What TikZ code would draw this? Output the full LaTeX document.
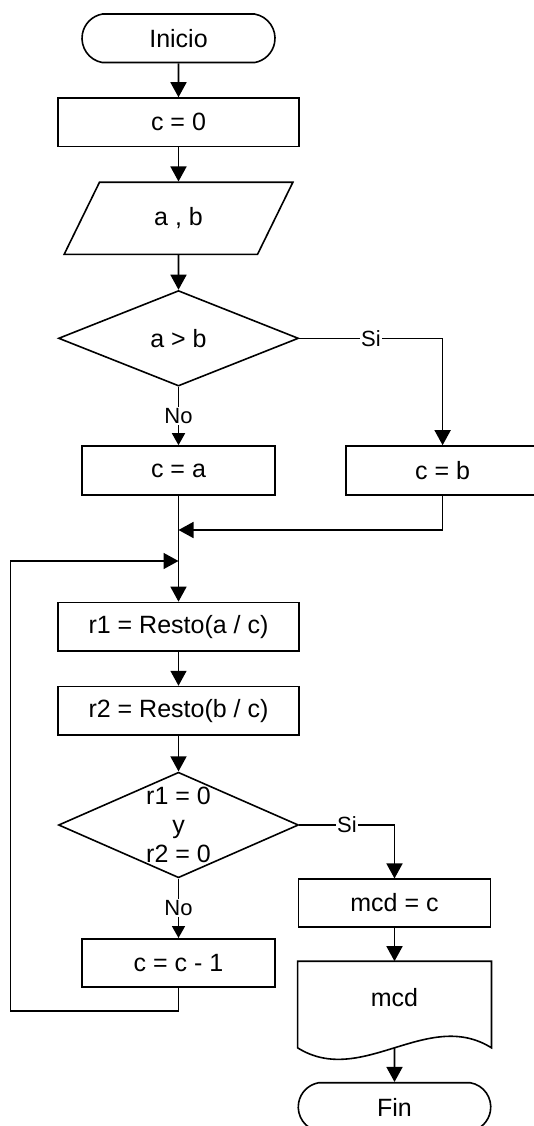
\documentclass[tikz,border=0pt]{standalone}
\usepackage{fontspec}
\setmainfont{Liberation Sans}
\usetikzlibrary{arrows.meta,shapes.geometric,shapes.misc}

\begin{document}
\begin{tikzpicture}[x=1pt, y=-1pt, line width=1.6pt, >={Triangle[length=15pt,width=16pt]},
    every node/.style={font=\fontsize{25}{29}\selectfont},
    caja/.style={draw, rectangle, minimum height=48.5pt, inner sep=0pt},
    terminal/.style={draw, rounded rectangle, rounded rectangle arc length=160, minimum width=193pt, minimum height=48.5pt, inner sep=0pt},
    decision/.style={draw, diamond, minimum width=240pt, inner sep=0pt},
    etiqueta/.style={fill=white, inner sep=1.5pt, font=\fontsize{22}{26}\selectfont},
    flechano/.style={-{Triangle[length=12pt,width=13pt]}}]
  \useasboundingbox (0,0) rectangle (533,1126);
  % inicio y lectura
  \node[terminal] (inicio) at (178.5,38.3) {Inicio};
  \node[caja, minimum width=240.6pt] (c0) at (178.5,122.3) {c = 0};
  \node[draw, trapezium, trapezium left angle=63, trapezium right angle=117, trapezium stretches=true,
    minimum width=229pt, minimum height=72pt, inner sep=0pt] (leer) at (178.5,218.3) {a , b};
  \draw[->] (inicio) -- (c0);
  \draw[->] (c0) -- (leer);
  % primera decision
  \node[decision, minimum height=95.5pt] (d1) at (178.5,338.3) {a > b};
  \node[caja, minimum width=193pt, minimum height=49pt] (ca) at (178.5,470.5) {c = a};
  \node[caja, minimum width=193pt, minimum height=49pt] (cb) at (442.6,470.5) {c = b};
  \draw[->] (leer) -- (d1);
  \draw[->] (d1.east) -| node[etiqueta, pos=0.25] (si1) {Si} (cb.north);
  \draw[flechano] (d1.south) -- node[etiqueta] (no1) {No} (ca.north);
  % union de ramas y lazo
  \coordinate (union) at (178.5,530);
  \coordinate (lazo) at (178.5,561);
  \coordinate (izq) at (10.5,1010.7);
  \draw[->] (cb.south) |- (union);
  % calculo de restos
  \node[caja, minimum width=240.6pt] (r1) at (178.5,626.7) {r1 = Resto(a / c)};
  \node[caja, minimum width=240.6pt] (r2) at (178.5,710.8) {r2 = Resto(b / c)};
  \draw[->] (ca.south) -- (r1.north);
  \draw[->] (r1) -- (r2);
  % segunda decision
  \node[decision, minimum height=105.6pt, label={[align=center]center:r1 = 0\\y\\r2 = 0}] (d2) at (178.5,825) {};
  \node[caja, minimum width=193pt, minimum height=48pt] (cc1) at (178.5,962.8) {c = c - 1};
  \node[caja, minimum width=192pt, minimum height=47.5pt] (mcd) at (394.5,903) {mcd = c};
  \draw[->] (r2) -- (d2);
  \draw[->] (d2.east) -| node[etiqueta, pos=0.25] (si2) {Si} (mcd.north);
  \draw[flechano] (d2.south) -- node[etiqueta] (no2) {No} (cc1.north);
  \draw[->] (cc1.south) |- (izq) |- (lazo);
  % salida y fin
  \node[minimum width=192.3pt, minimum height=85pt, inner sep=0pt,
    label={[yshift=6.5pt]center:mcd}] (salida) at (394.5,1004.5) {};
  \draw (salida.north west) -- (salida.north east) -- (salida.south east)
    .. controls ([xshift=-64pt, yshift=40pt]salida.south east) and ([xshift=64pt, yshift=-40pt]salida.south west) .. (salida.south west) -- cycle;
  \node[terminal, minimum width=192.5pt] (fin) at (394.5,1107) {Fin};
  \draw[->] (mcd) -- (salida.north);
  \draw[->] (salida.south) -- (fin);
\end{tikzpicture}
\end{document}
